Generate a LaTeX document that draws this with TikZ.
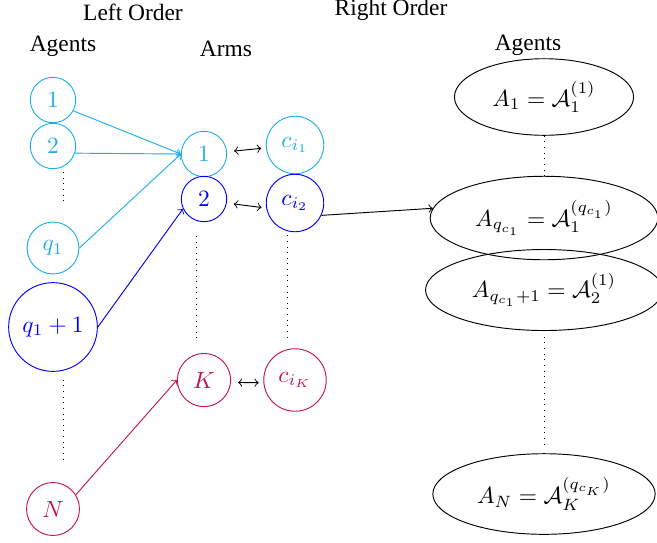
\documentclass[tikz,border=0pt]{standalone}
\usepackage[no-math]{fontspec}
\setmainfont{Liberation Serif}
\usetikzlibrary{shapes.geometric}
\usetikzlibrary{calc}
\definecolor{groupone}{RGB}{30,174,232}
\definecolor{grouptwo}{RGB}{0,0,255}
\definecolor{groupk}{RGB}{196,20,78}

\begin{document}
\begin{tikzpicture}[x=0.015cm, y=-0.015cm,
    circ/.style={circle, draw, inner sep=4pt},
    ell/.style={ellipse, draw, inner sep=5pt},
    vdotline/.style={dotted}]

    \useasboundingbox (0,0) rectangle (657,542);
    \clip (0,0) rectangle (657,542);

    % titles
    \node (lefttitle) at (133,12) {Left Order};
    \node (righttitle) at (391,10) {Right Order};
    \node (agentsleft) at (63,46) {Agents};
    \node (armstitle) at (226,49) {Arms};
    \node (agentsright) at (528,45) {Agents};

    % left agents
    \node[circ, groupone] (a1) at (53,100) {$1$};
    \node[circ, groupone] (a2) at (53,146) {$2$};
    \node[circ, groupone] (aq1) at (53,248) {$q_1$};
    \node[circ, grouptwo] (aq1p) at (53,327) {$q_1+1$};
    \node[circ, groupk] (aN) at (53,509) {$N$};

    % arms
    \node[circ, groupone] (arm1) at (204,154) {$1$};
    \node[circ, grouptwo] (arm2) at (204,199) {$2$};
    \node[circ, groupk] (armK) at (204,380) {$K$};

    \node[circ, groupone] (c1) at (295,145) {$c_{i_1}$};
    \node[circ, grouptwo] (c2) at (295,203) {$c_{i_2}$};
    \node[circ, groupk] (cK) at (295,380) {$c_{i_K}$};

    % right order
    \node[ell] (A1) at (544,97) {$A_1=\mathcal{A}_1^{(1)}$};
    \node[ell] (Aq) at (544,218) {$A_{q_{c_1}}=\mathcal{A}_1^{(q_{c_1})}$};
    \node[ell] (Aqp) at (544,290) {$A_{q_{c_1}+1}=\mathcal{A}_2^{(1)}$};
    \node[ell] (AN) at (544,494) {$A_N=\mathcal{A}_K^{(q_{c_K})}$};

    % vertical dots
    \draw[vdotline, shorten <=1.3pt, shorten >=7.3pt] ([xshift=1.5mm]a2.south) -- ([xshift=1.5mm]aq1.north);
    \draw[vdotline, shorten <=3.4pt, shorten >=8.5pt] ([xshift=1.5mm]aq1p.south) -- ([xshift=1.5mm]aN.north);
    \draw[vdotline, shorten <=6pt, shorten >=6.4pt] ([xshift=-1.1mm]arm2.south) -- ([xshift=-1.1mm]armK.north);
    \draw[vdotline, shorten <=1.3pt, shorten >=3.8pt] ([xshift=-1.1mm]c2.south) -- ([xshift=-1.1mm]cK.north);
    \draw[vdotline] (A1.south) -- (Aq.north);
    \draw[vdotline, shorten <=2.5pt, shorten >=2pt] (Aqp.south) -- (AN.north);

    % agents to arms
    \draw[groupone, ->] (a1.-28) -- (arm1.west);
    \draw[groupone, ->] (a2.-18) -- (arm1.west);
    \draw[groupone, ->] (aq1.east) -- (arm1.west);
    \draw[grouptwo, ->] (aq1p.east) -- (arm2.205);
    \draw[groupk, ->] (aN.32) -- (armK.west);

    \draw[<->, shorten <=3pt, shorten >=2pt] (arm1) -- (c1);
    \draw[<->, shorten <=3pt, shorten >=2pt] (arm2.-10) -- (c2.190);
    \draw[<->, shorten <=3pt, shorten >=2pt] (armK.-5) -- (cK.185);

    \draw[->] (c2.-25) -- (Aq.175);

\end{tikzpicture}
\end{document}
